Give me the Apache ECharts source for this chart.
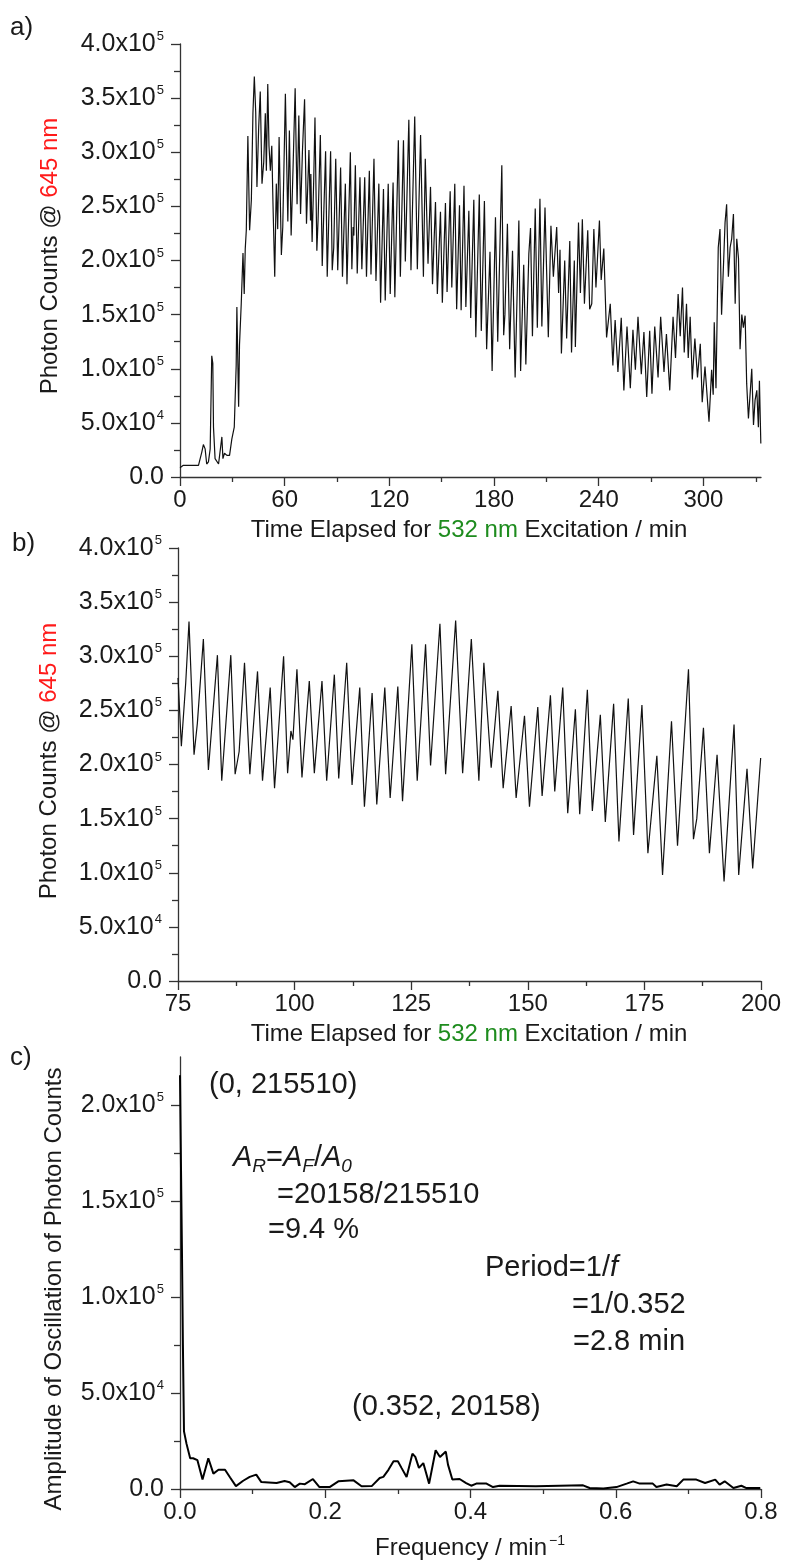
<!DOCTYPE html>
<html><head><meta charset="utf-8">
<script src="https://cdn.jsdelivr.net/npm/echarts@6/dist/echarts.min.js"></script>
<style>html,body{margin:0;padding:0;background:#fff}#c{width:785px;height:1564px}</style>
</head><body><div id="c"></div>
<script>
// ---------- DATA ----------
// Panel a, 0 - 75 min : [time (min), photon counts]
const panelAEarly = [[0,8600],[1.9,10800],[10.6,10800],[12.5,23000],[13.4,30000],[14.4,26000],[15.3,12000],[16.3,14000],[17.3,26000],[18.2,112000],[18.8,105000],[19.2,46000],[20.1,17000],[22.1,12000],[23.0,12000],[24.0,37000],[24.6,17000],[25.5,22000],[26.9,20000],[28.4,20000],[29.7,35000],[31.1,46000],[32.2,103000],[32.6,157000],[33.6,65000],[34.1,122000],[35.1,160000],[36.1,207000],[36.8,169000],[37.4,211000],[38.0,228000],[38.9,315000],[39.9,228000],[40.9,256000],[41.8,336000],[42.6,370000],[43.4,337000],[44.1,268000],[45.1,323000],[46.0,356000],[47.0,271000],[48.0,291000],[48.9,336000],[49.5,283000],[50.3,363000],[51.0,306000],[51.8,283000],[52.6,306000],[53.3,252000],[54.3,185000],[55.2,271000],[56.0,229000],[56.8,314000],[58.1,205000],[58.9,231000],[60.4,354000],[61.8,236000],[62.7,320000],[63.7,223000],[64.8,286000],[66.0,359000],[67.1,252000],[68.1,334000],[69.1,243000],[70.2,302000],[71.4,349000],[72.5,234000],[73.9,302000],[74.8,237000]];
// Panel b (75 - 200 min), also the middle part of panel a
const panelB = [[75.00,280000],[75.72,217000],[76.65,275000],[77.36,332000],[78.44,209000],[79.15,238000],[80.44,316000],[81.52,195000],[83.45,301000],[84.38,185000],[86.32,301000],[87.25,191000],[88.11,212000],[89.26,294000],[90.40,191000],[92.05,286000],[93.12,185000],[94.77,271000],[95.70,178000],[97.64,300000],[98.50,192000],[99.21,231000],[99.64,223000],[100.50,288000],[101.58,188000],[103.15,277000],[104.23,192000],[105.87,277000],[106.88,185000],[108.52,283000],[109.46,187000],[111.17,294000],[112.32,181000],[113.97,271000],[114.97,161000],[116.62,266000],[117.62,163000],[119.34,271000],[120.49,169000],[122.13,272000],[123.14,166000],[125.14,311000],[126.29,185000],[128.08,311000],[129.15,199000],[131.16,330000],[132.38,191000],[134.53,333000],[136.03,192000],[137.89,316000],[139.51,185000],[140.58,294000],[142.15,197000],[143.58,268000],[144.72,178000],[146.43,254000],[147.50,169000],[149.29,245000],[150.36,161000],[152.14,253000],[153.07,171000],[154.85,264000],[155.78,175000],[157.49,271000],[158.56,155000],[160.20,251000],[161.13,154000],[162.77,269000],[163.84,157000],[165.55,246000],[166.62,147000],[168.40,256000],[169.54,129000],[171.54,261000],[172.68,135000],[174.47,255000],[175.75,118000],[177.67,208000],[178.89,98000],[180.81,240000],[182.10,125000],[184.45,288000],[185.52,131000],[186.23,150000],[187.66,234000],[188.94,118000],[190.58,209000],[192.08,92000],[194.22,237000],[195.22,98000],[197.00,196000],[198.22,104000],[199.93,206000]];
// Panel a, 200 - 333 min
const panelALate = [[200.9,230000],[202.0,130000],[203.6,248000],[204.8,138000],[206.3,257000],[207.4,139000],[209.2,249000],[211.1,129000],[212.6,232000],[214.0,185000],[215.9,231000],[217.0,170000],[217.8,210000],[218.6,114000],[220.5,200000],[221.6,128000],[223.4,218000],[224.4,115000],[226.0,200000],[226.6,120000],[228.4,235000],[229.5,170000],[230.6,238000],[231.8,160000],[233.7,228000],[234.8,155000],[236.0,160000],[237.2,229000],[238.4,175000],[240.4,237000],[241.4,182000],[242.9,211000],[244.5,129000],[246.6,160000],[248.1,103000],[249.4,145000],[251.0,97000],[252.9,147000],[254.4,80000],[256.2,139000],[258.1,82000],[259.6,136000],[261.0,99000],[262.5,148000],[264.4,95000],[265.9,134000],[267.5,74000],[269.2,135000],[270.5,77000],[272.1,139000],[274.0,92000],[275.5,148000],[277.4,97000],[278.8,132000],[280.7,80000],[282.6,148000],[284.0,110000],[285.5,169000],[286.7,130000],[288.0,175000],[289.0,115000],[290.3,160000],[291.3,110000],[292.4,148000],[293.6,90000],[295.1,128000],[296.6,92000],[298.2,123000],[299.3,69000],[300.9,102000],[303.2,51000],[304.7,99000],[305.6,76000],[306.2,143000],[307.2,82000],[308.5,212000],[309.5,229000],[310.4,150000],[311.6,200000],[312.4,235000],[313.3,252000],[314.3,185000],[315.3,212000],[316.2,220000],[317.2,243000],[318.2,160000],[319.1,220000],[320.1,202000],[321.0,118000],[322.0,150000],[322.9,138000],[323.9,149000],[324.8,86000],[325.8,54000],[326.9,80000],[327.7,100000],[328.7,48000],[329.6,71000],[330.6,80000],[331.5,46000],[332.1,89000],[332.9,31000]];
// Panel c : [frequency (1/min), amplitude]
const panelC = [[0,215510],[0.0014,166000],[0.0028,120000],[0.004,75000],[0.0055,30000],[0.009,23500],[0.014,16000],[0.018,16000],[0.024,15000],[0.031,5000],[0.039,16000],[0.046,8000],[0.053,10000],[0.062,10000],[0.069,6000],[0.077,1500],[0.087,4300],[0.096,6300],[0.105,7500],[0.112,3600],[0.122,3400],[0.133,3100],[0.144,4200],[0.151,3500],[0.158,1000],[0.165,2800],[0.172,2500],[0.183,5200],[0.192,1000],[0.206,1000],[0.218,4000],[0.239,4500],[0.25,1400],[0.264,1500],[0.275,5700],[0.28,6300],[0.287,10000],[0.294,14400],[0.30,14400],[0.305,11000],[0.312,6300],[0.320,18400],[0.324,16700],[0.329,11000],[0.335,13500],[0.343,2800],[0.352,20158],[0.358,16700],[0.366,19500],[0.369,12700],[0.375,4900],[0.385,5200],[0.394,3100],[0.401,1700],[0.408,2800],[0.422,2800],[0.431,1000],[0.44,1700],[0.49,1400],[0.555,1900],[0.564,500],[0.583,200],[0.601,1000],[0.615,2800],[0.624,4000],[0.633,2800],[0.651,2800],[0.656,1000],[0.67,2300],[0.684,1400],[0.693,4900],[0.711,4900],[0.723,3100],[0.737,4900],[0.743,2300],[0.75,4000],[0.762,500],[0.773,1700],[0.78,500],[0.799,500]];

// Ticks & labels
const xTicksA = [0,60,120,180,240,300];
const xMinorA = [30,90,150,210,270,330];
const xTicksB = [75,100,125,150,175,200];
const xMinorB = [87.5,112.5,137.5,162.5,187.5];
const xTicksC = [0,0.2,0.4,0.6,0.8];
const xLabelsC = ['0.0','0.2','0.4','0.6','0.8'];
const xMinorC = [0.1,0.3,0.5,0.7];
const yTicksAB = [0,50000,100000,150000,200000,250000,300000,350000,400000];
const yMinorAB = [25000,75000,125000,175000,225000,275000,325000,375000];
const yTicksC = [0,50000,100000,150000,200000];
const yMinorC = [25000,75000,125000,175000];
const yMant = ['0.0','5.0x10','1.0x10','1.5x10','2.0x10','2.5x10','3.0x10','3.5x10','4.0x10'];
const yExp  = ['','4','5','5','5','5','5','5','5'];

// ---------- CHART ----------
const FONT = '"Liberation Sans", Arial, Helvetica, sans-serif';
const AX = '#333';
const TXT = '#1a1a1a';
const chart = echarts.init(document.getElementById('c'));

function yFmt(v){
  const i = yTicksAB.indexOf(v);
  if (i < 0) return '';
  return yExp[i] ? '{m|' + yMant[i] + '}{s|' + yExp[i] + '}' : '{m|' + yMant[i] + '}';
}
const yRich = {
  m:{fontSize:25, fontFamily:FONT, color:TXT, lineHeight:28},
  s:{fontSize:13, fontFamily:FONT, color:TXT, verticalAlign:'top', lineHeight:14, padding:[0,0,0,1]}
};
function xMain(g, min, max, ticks, fmt){
  return {type:'value', gridIndex:g, min:min, max:max, position:'bottom',
    axisLine:{show:true, onZero:false, lineStyle:{color:AX, width:1.3}},
    axisTick:{show:true, customValues:ticks, length:9, lineStyle:{color:AX, width:1.3}},
    axisLabel:{show:true, customValues:ticks, formatter:fmt, margin:11, fontSize:24, fontFamily:FONT, color:TXT},
    splitLine:{show:false}};
}
function xMinor(g, min, max, ticks){
  return {type:'value', gridIndex:g, min:min, max:max, position:'bottom',
    axisLine:{show:false, onZero:false}, axisLabel:{show:false}, splitLine:{show:false},
    axisTick:{show:true, customValues:ticks, length:5, lineStyle:{color:AX, width:1.3}}};
}
function yMain(g, max, ticks){
  return {type:'value', gridIndex:g, min:0, max:max, position:'left',
    axisLine:{show:true, onZero:false, lineStyle:{color:AX, width:1.3}},
    axisTick:{show:true, customValues:ticks, length:9, lineStyle:{color:AX, width:1.3}},
    axisLabel:{show:true, customValues:ticks, formatter:yFmt, margin:16, rich:yRich},
    splitLine:{show:false}};
}
function yMinor(g, max, ticks){
  return {type:'value', gridIndex:g, min:0, max:max, position:'left',
    axisLine:{show:false, onZero:false}, axisLabel:{show:false}, splitLine:{show:false},
    axisTick:{show:true, customValues:ticks, length:6, lineStyle:{color:AX, width:1.3}}};
}
function txt(x, y, text, size, extra){
  return Object.assign({type:'text', x:x, y:y, silent:true,
    style:Object.assign({text:text, fontSize:size, fontFamily:FONT, fill:TXT, textAlign:'left', textVerticalAlign:'middle'}, extra||{})});
}
const R = (o)=>Object.assign({fontFamily:FONT, fill:TXT, color:TXT}, o);

const option = {
  animation:false,
  backgroundColor:'#fff',
  grid:[
    {left:180, top:44, width:581, height:433},
    {left:178, top:548, width:583, height:433},
    {left:180, top:1057, width:581, height:432}
  ],
  xAxis:[
    xMain(0, 0, 333, xTicksA, v=>String(v)),
    xMinor(0, 0, 333, xMinorA),
    xMain(1, 75, 200, xTicksB, v=>String(v)),
    xMinor(1, 75, 200, xMinorB),
    xMain(2, 0, 0.8, xTicksC, v=>{const i=xTicksC.findIndex(t=>Math.abs(t-v)<1e-9); return i<0?'':xLabelsC[i];}),
    xMinor(2, 0, 0.8, xMinorC)
  ],
  yAxis:[
    yMain(0, 400000, yTicksAB), yMinor(0, 400000, yMinorAB),
    yMain(1, 400000, yTicksAB), yMinor(1, 400000, yMinorAB),
    yMain(2, 225000, yTicksC), yMinor(2, 225000, yMinorC)
  ],
  series:[
    {type:'line', xAxisIndex:0, yAxisIndex:0, showSymbol:false, symbol:'none',
     data: panelAEarly.concat(panelB, panelALate), lineStyle:{color:'#111', width:1.2}},
    {type:'line', xAxisIndex:2, yAxisIndex:2, showSymbol:false, symbol:'none',
     data: panelB, lineStyle:{color:'#111', width:1.2}},
    {type:'line', xAxisIndex:4, yAxisIndex:4, showSymbol:false, symbol:'none',
     data: panelC, lineStyle:{color:'#000', width:2}}
  ],
  graphic:[
    txt(10, 28, 'a)', 26),
    txt(12, 544, 'b)', 26),
    txt(10, 1058, 'c)', 26),
    // y titles
    {type:'text', x:50, y:256, rotation:Math.PI/2, silent:true,
     style:{text:'{k|Photon Counts @ }{r|645 nm}', textAlign:'center', textVerticalAlign:'middle',
       rich:{k:R({fontSize:24}), r:R({fontSize:24, fill:'#ff1a1a', color:'#ff1a1a'})}}},
    {type:'text', x:49, y:761, rotation:Math.PI/2, silent:true,
     style:{text:'{k|Photon Counts @ }{r|645 nm}', textAlign:'center', textVerticalAlign:'middle',
       rich:{k:R({fontSize:24}), r:R({fontSize:24, fill:'#ff1a1a', color:'#ff1a1a'})}}},
    {type:'text', x:54, y:1289, rotation:Math.PI/2, silent:true,
     style:{text:'Amplitude of Oscillation of Photon Counts', textAlign:'center', textVerticalAlign:'middle',
       fontSize:24, fontFamily:FONT, fill:TXT}},
    // x titles
    {type:'text', x:469, y:530, silent:true,
     style:{text:'{k|Time Elapsed for }{g|532 nm}{k| Excitation / min}', textAlign:'center', textVerticalAlign:'middle',
       rich:{k:R({fontSize:24}), g:R({fontSize:24, fill:'#1e8c1e', color:'#1e8c1e'})}}},
    {type:'text', x:469, y:1034, silent:true,
     style:{text:'{k|Time Elapsed for }{g|532 nm}{k| Excitation / min}', textAlign:'center', textVerticalAlign:'middle',
       rich:{k:R({fontSize:24}), g:R({fontSize:24, fill:'#1e8c1e', color:'#1e8c1e'})}}},
    {type:'text', x:470, y:1548, silent:true,
     style:{text:'{k|Frequency / min}{s|\u22121}', textAlign:'center', textVerticalAlign:'middle',
       rich:{k:R({fontSize:24, lineHeight:28}), s:R({fontSize:14, verticalAlign:'top', lineHeight:14, padding:[0,0,0,2]})}}},
    // annotations panel c
    txt(209, 1085, '(0, 215510)', 29),
    {type:'text', x:233, y:1158, silent:true,
     style:{text:'{i|A}{b|R}{n|=}{i|A}{b|F}{n|/}{i|A}{bi|0}', textAlign:'left', textVerticalAlign:'middle',
       rich:{i:R({fontSize:29, fontStyle:'italic', lineHeight:36}), n:R({fontSize:29, lineHeight:36}),
             b:R({fontSize:19, fontStyle:'italic', verticalAlign:'bottom', lineHeight:20}),
             bi:R({fontSize:19, fontStyle:'italic', verticalAlign:'bottom', lineHeight:20})}}},
    txt(277, 1195, '=20158/215510', 29),
    txt(268, 1230, '=9.4 %', 29),
    {type:'text', x:485, y:1268, silent:true,
     style:{text:'{n|Period=1/}{i|f}', textAlign:'left', textVerticalAlign:'middle',
       rich:{n:R({fontSize:29}), i:R({fontSize:29, fontStyle:'italic'})}}},
    txt(572, 1305, '=1/0.352', 29),
    txt(573, 1342, '=2.8 min', 29),
    txt(352, 1407, '(0.352, 20158)', 29)
  ]
};
chart.setOption(option);
</script></body></html>
